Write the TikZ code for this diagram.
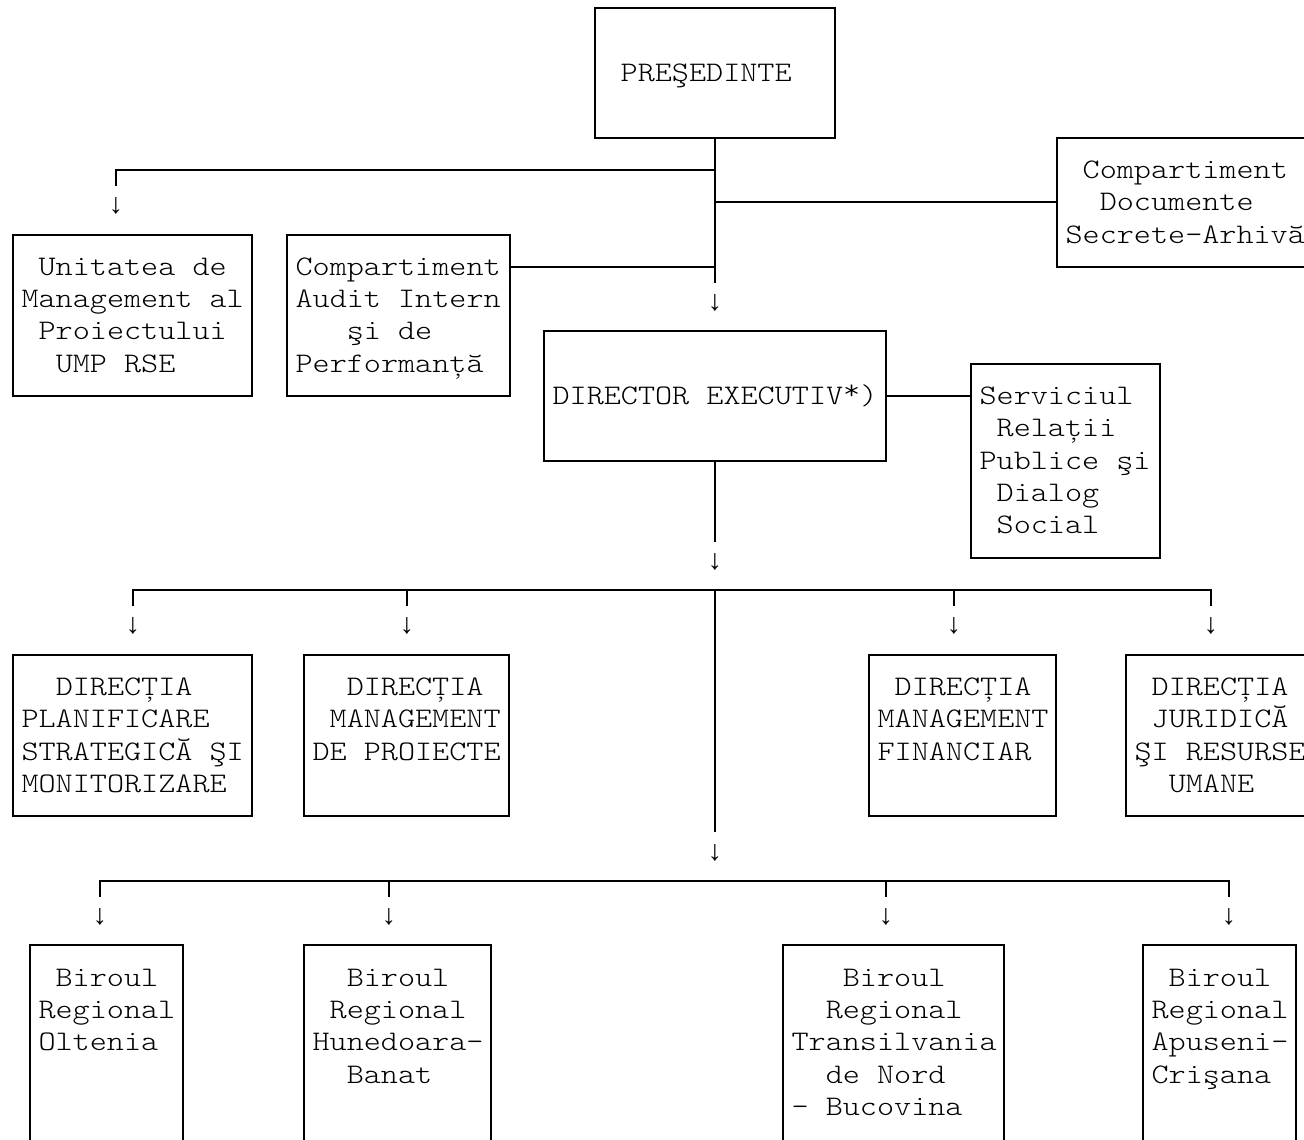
\documentclass[tikz,border=0pt]{standalone}
\usepackage{fontspec}
\newfontfamily\cmono[FakeStretch=1.15]{lmmonolt10-regular.otf}
\newfontfamily\amono{Liberation Mono}
\newcommand\R[1]{(73+32.31*(#1))}
\tikzset{
  ln/.style={line width=1pt},
  box/.style={draw, line width=1pt, inner sep=0pt, outer sep=0pt, anchor=north west},
  txt/.style={font=\cmono\fontsize{14.16pt}{16pt}\selectfont, inner sep=0pt, outer sep=0pt, anchor=base west},
  arr/.style={font=\amono\fontsize{14.25pt}{16pt}\selectfont, inner sep=0pt, anchor=center},
}
% box: name, left x, top row, right x, bottom row
\newcommand\bx[5]{\node[box, minimum width={(#4-#2)*0.5pt}, minimum height={(#5-#3)*16.155pt}] (#1) at (#2,{\R{#3}}) {};}
% text line: name, box left x, leading spaces, row, text
\newcommand\tl[5]{\node[txt] (#1) at ({#2+8.55+17.1*#3},{\R{#4}+8.5}) {#5};}
\begin{document}
\begin{tikzpicture}[x=0.5pt,y=-0.5pt]
\useasboundingbox (0,0) rectangle (1304,1139);
\clip (0,0) rectangle (1304,1139);
% ---------- boxes
\bx{pres}{595}{-2}{835}{2}
\bx{ump}{13}{5}{252}{10}
\bx{audit}{287}{5}{510}{10}
\bx{docs}{1057}{2}{1313}{6}
\bx{dir}{544}{8}{886}{12}
\bx{serv}{971}{9}{1160}{15}
\bx{dpsm}{13}{18}{252}{23}
\bx{dmp}{304}{18}{509}{23}
\bx{dmf}{869}{18}{1056}{23}
\bx{djru}{1126}{18}{1313}{23}
\bx{bro}{30}{27}{183}{35}
\bx{brh}{304}{27}{491}{35}
\bx{brt}{783}{27}{1004}{35}
\bx{bra}{1143}{27}{1296}{35}
% ---------- texts
\tl{presT}{595}{1}{0}{PREŞEDINTE}
\tl{ump1}{13}{1}{6}{Unitatea de}
\tl{ump2}{13}{0}{7}{Management al}
\tl{ump3}{13}{1}{8}{Proiectului}
\tl{ump4}{13}{2}{9}{UMP RSE}
\tl{aud1}{287}{0}{6}{Compartiment}
\tl{aud2}{287}{0}{7}{Audit Intern}
\tl{aud3}{287}{3}{8}{şi de}
\tl{aud4}{287}{0}{9}{Performanță}
\tl{doc1}{1057}{1}{3}{Compartiment}
\tl{doc2}{1057}{2}{4}{Documente}
\tl{doc3}{1057}{0}{5}{Secrete-Arhivă}
\tl{dirT}{544}{0}{10}{DIRECTOR EXECUTIV\raisebox{2.5pt}{*})}
\tl{srv1}{971}{0}{10}{Serviciul}
\tl{srv2}{971}{1}{11}{Relații}
\tl{srv3}{971}{0}{12}{Publice şi}
\tl{srv4}{971}{1}{13}{Dialog}
\tl{srv5}{971}{1}{14}{Social}
\tl{dps1}{13}{2}{19}{DIRECȚIA}
\tl{dps2}{13}{0}{20}{PLANIFICARE}
\tl{dps3}{13}{0}{21}{STRATEGICĂ ŞI}
\tl{dps4}{13}{0}{22}{MONITORIZARE}
\tl{dmp1}{304}{2}{19}{DIRECȚIA}
\tl{dmp2}{304}{1}{20}{MANAGEMENT}
\tl{dmp3}{304}{0}{21}{DE PROIECTE}
\tl{dmf1}{869}{1}{19}{DIRECȚIA}
\tl{dmf2}{869}{0}{20}{MANAGEMENT}
\tl{dmf3}{869}{0}{21}{FINANCIAR}
\tl{dju1}{1126}{1}{19}{DIRECȚIA}
\tl{dju2}{1126}{1}{20}{JURIDICĂ}
\tl{dju3}{1126}{0}{21}{ŞI RESURSE}
\tl{dju4}{1126}{2}{22}{UMANE}
\tl{bro1}{30}{1}{28}{Biroul}
\tl{bro2}{30}{0}{29}{Regional}
\tl{bro3}{30}{0}{30}{Oltenia}
\tl{brh1}{304}{2}{28}{Biroul}
\tl{brh2}{304}{1}{29}{Regional}
\tl{brh3}{304}{0}{30}{Hunedoara-}
\tl{brh4}{304}{2}{31}{Banat}
\tl{brt1}{783}{3}{28}{Biroul}
\tl{brt2}{783}{2}{29}{Regional}
\tl{brt3}{783}{0}{30}{Transilvania}
\tl{brt4}{783}{2}{31}{de Nord}
\tl{brt5}{783}{0}{32}{- Bucovina}
\tl{bra1}{1143}{1}{28}{Biroul}
\tl{bra2}{1143}{0}{29}{Regional}
\tl{bra3}{1143}{0}{30}{Apuseni-}
\tl{bra4}{1143}{0}{31}{Crişana}
% ---------- arrows (glyphs)
\node[arr] (a1)  at (116,{\R{4}+4}) {↓};
\node[arr] (a2)  at (715,{\R{7}+4}) {↓};
\node[arr] (a3)  at (715,{\R{15}+4}) {↓};
\node[arr] (a4)  at (133,{\R{17}+4}) {↓};
\node[arr] (a5)  at (407,{\R{17}+4}) {↓};
\node[arr] (a6)  at (954,{\R{17}+4}) {↓};
\node[arr] (a7)  at (1211,{\R{17}+4}) {↓};
\node[arr] (a8)  at (715,{\R{24}+4}) {↓};
\node[arr] (a9)  at (100,{\R{26}+4}) {↓};
\node[arr] (a10) at (389,{\R{26}+4}) {↓};
\node[arr] (a11) at (886,{\R{26}+4}) {↓};
\node[arr] (a12) at (1229,{\R{26}+4}) {↓};
% ---------- connectors
\coordinate (j1) at (715,{\R{3}});
\coordinate (j2) at (715,{\R{4}});
\coordinate (j3) at (715,{\R{6}});
\coordinate (t1) at (715,{\R{6.5}});
\coordinate (c1) at (116,{\R{3.5}});
\draw[ln] (pres.south) -- (t1);
\draw[ln] (j1) -| (c1);
\draw[ln] (j2) -- (docs.west);
\draw[ln] (j3) -- (j3 -| audit.east);
\draw[ln] (dir.east) -- (dir.east -| serv.west);
\coordinate (t2) at (715,{\R{14.5}});
\draw[ln] (dir.south) -- (t2);
% level of directions
\coordinate (h1l) at (133,{\R{16.5}});
\coordinate (h1r) at (1211,{\R{16}});
\coordinate (h1rb) at (1211,{\R{16.5}});
\draw[ln] (h1l) |- (h1r) -- (h1rb);
\coordinate (k1) at (407,{\R{16}});
\coordinate (k1b) at (407,{\R{16.5}});
\coordinate (k2) at (954,{\R{16}});
\coordinate (k2b) at (954,{\R{16.5}});
\draw[ln] (k1) -- (k1b);
\draw[ln] (k2) -- (k2b);
\coordinate (m1) at (715,{\R{16}});
\coordinate (m2) at (715,{\R{23.5}});
\draw[ln] (m1) -- (m2);
% level of regional offices
\coordinate (h2l) at (100,{\R{25.5}});
\coordinate (h2r) at (1229,{\R{25}});
\coordinate (h2rb) at (1229,{\R{25.5}});
\draw[ln] (h2l) |- (h2r) -- (h2rb);
\coordinate (k3) at (389,{\R{25}});
\coordinate (k3b) at (389,{\R{25.5}});
\coordinate (k4) at (886,{\R{25}});
\coordinate (k4b) at (886,{\R{25.5}});
\draw[ln] (k3) -- (k3b);
\draw[ln] (k4) -- (k4b);
\end{tikzpicture}
\end{document}
